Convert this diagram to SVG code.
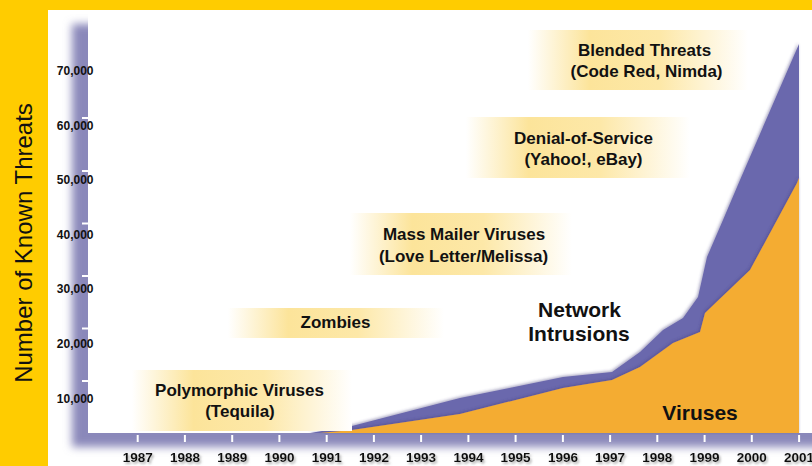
<svg xmlns="http://www.w3.org/2000/svg" width="812" height="466" viewBox="0 0 812 466">
<defs>
<style>
.lbl{font-family:"Liberation Sans",Arial,sans-serif;font-weight:bold;font-size:17px;fill:#111;text-anchor:middle}
.big{font-family:"Liberation Sans",Arial,sans-serif;font-weight:bold;font-size:21px;fill:#111;text-anchor:middle}
.yl{font-family:"Liberation Sans",Arial,sans-serif;font-weight:bold;font-size:12px;fill:#111;text-anchor:end}
.yr{font-family:"Liberation Sans",Arial,sans-serif;font-weight:bold;font-size:13.5px;fill:#111;text-anchor:middle}
.tick{stroke:#fff;stroke-width:2}
</style>
<linearGradient id="glow" x1="0" y1="0" x2="1" y2="0">
<stop offset="0" stop-color="#fff"/>
<stop offset="0.28" stop-color="#FCE49A"/>
<stop offset="0.6" stop-color="#FDE8A8"/>
<stop offset="1" stop-color="#fff"/>
</linearGradient>
<filter id="blur" x="-20%" y="-20%" width="140%" height="140%"><feGaussianBlur stdDeviation="4"/></filter>
<filter id="sh" x="-10%" y="-10%" width="120%" height="120%"><feDropShadow dx="-1" dy="-1" stdDeviation="1.8" flood-color="#3f3d78" flood-opacity="0.45"/></filter>
<filter id="tsh" x="-20%" y="-40%" width="150%" height="200%"><feDropShadow dx="1.5" dy="2" stdDeviation="1" flood-color="#777" flood-opacity="0.6"/></filter>
</defs>
<rect x="0" y="0" width="812" height="466" fill="#FFCC00"/>
<rect x="48" y="10" width="764" height="456" fill="#fff"/>
<g id="axis-frame">
<path d="M72,24 H100 V421 H822 V447 H72 Z" fill="#8A88BA" filter="url(#blur)"/>
<rect x="88" y="10" width="724" height="423" fill="#fff"/>
</g>
<g id="areas">
<path id="network-intrusions" d="M310,433 L352,426 L460,398 L563,377 L612,372 L640,352 L663,330 L683,318 L698,297 L707,257 L723,220 L740,180 L799,44 L799,433 Z" fill="#6A67AD" filter="url(#sh)"/>
<path id="viruses-area" d="M320,433 L352,430 L460,414 L563,388 L612,380 L640,367 L673,343 L700,332 L705,313 L750,270 L797,183 L799,178 L799,433 Z" fill="#F4AC30" filter="url(#sh)"/>
</g>
<g id="ticks">
<line class="tick" x1="82" y1="118" x2="89" y2="118"/>
<line class="tick" x1="82" y1="171" x2="89" y2="171"/>
<line class="tick" x1="82" y1="223.5" x2="89" y2="223.5"/>
<line class="tick" x1="82" y1="276" x2="89" y2="276"/>
<line class="tick" x1="82" y1="328.5" x2="89" y2="328.5"/>
<line class="tick" x1="82" y1="381" x2="89" y2="381"/>
<line class="tick" x1="137.7" y1="435" x2="137.7" y2="442"/>
<line class="tick" x1="184.9" y1="435" x2="184.9" y2="442"/>
<line class="tick" x1="232.2" y1="435" x2="232.2" y2="442"/>
<line class="tick" x1="279.4" y1="435" x2="279.4" y2="442"/>
<line class="tick" x1="326.7" y1="435" x2="326.7" y2="442"/>
<line class="tick" x1="373.9" y1="435" x2="373.9" y2="442"/>
<line class="tick" x1="421.1" y1="435" x2="421.1" y2="442"/>
<line class="tick" x1="468.4" y1="435" x2="468.4" y2="442"/>
<line class="tick" x1="515.6" y1="435" x2="515.6" y2="442"/>
<line class="tick" x1="562.9" y1="435" x2="562.9" y2="442"/>
<line class="tick" x1="610.1" y1="435" x2="610.1" y2="442"/>
<line class="tick" x1="657.3" y1="435" x2="657.3" y2="442"/>
<line class="tick" x1="704.6" y1="435" x2="704.6" y2="442"/>
<line class="tick" x1="751.8" y1="435" x2="751.8" y2="442"/>
<line class="tick" x1="799.1" y1="435" x2="799.1" y2="442"/>
</g>
<g id="y-labels">
<text class="yl" x="93.5" y="75">70,000</text>
<text class="yl" x="93.5" y="129.6">60,000</text>
<text class="yl" x="93.5" y="184.2">50,000</text>
<text class="yl" x="93.5" y="238.8">40,000</text>
<text class="yl" x="93.5" y="293.3">30,000</text>
<text class="yl" x="93.5" y="347.9">20,000</text>
<text class="yl" x="93.5" y="402.5">10,000</text>
</g>
<g id="x-labels" filter="url(#tsh)">
<text class="yr" x="137.7" y="462">1987</text>
<text class="yr" x="184.9" y="462">1988</text>
<text class="yr" x="232.2" y="462">1989</text>
<text class="yr" x="279.4" y="462">1990</text>
<text class="yr" x="326.7" y="462">1991</text>
<text class="yr" x="373.9" y="462">1992</text>
<text class="yr" x="421.1" y="462">1993</text>
<text class="yr" x="468.4" y="462">1994</text>
<text class="yr" x="515.6" y="462">1995</text>
<text class="yr" x="562.9" y="462">1996</text>
<text class="yr" x="610.1" y="462">1997</text>
<text class="yr" x="657.3" y="462">1998</text>
<text class="yr" x="704.6" y="462">1999</text>
<text class="yr" x="751.8" y="462">2000</text>
<text class="yr" x="799.1" y="462">2001</text>
</g>
<text id="y-title" transform="translate(31.5,243) rotate(-90)" text-anchor="middle" font-family="Liberation Sans, Arial, sans-serif" font-size="24" fill="#111">Number of Known Threats</text>
<g id="blended-threats">
<rect x="528" y="30" width="220" height="60" fill="url(#glow)"/>
<text class="lbl" x="644.5" y="56">Blended Threats</text>
<text class="lbl" x="646.5" y="77">(Code Red, Nimda)</text>
</g>
<g id="denial-of-service">
<rect x="466" y="117" width="224" height="61" fill="url(#glow)"/>
<text class="lbl" x="583.5" y="143.5">Denial-of-Service</text>
<text class="lbl" x="583.5" y="165">(Yahoo!, eBay)</text>
</g>
<g id="mass-mailer">
<rect x="350" y="213" width="222" height="62" fill="url(#glow)"/>
<text class="lbl" x="464" y="240">Mass Mailer Viruses</text>
<text class="lbl" x="463.5" y="261.5">(Love Letter/Melissa)</text>
</g>
<g id="zombies">
<rect x="228" y="308" width="216" height="30" fill="url(#glow)"/>
<text class="lbl" x="335.5" y="327.5">Zombies</text>
</g>
<g id="polymorphic">
<rect x="132" y="370" width="220" height="61" fill="url(#glow)"/>
<text class="lbl" x="239.5" y="396">Polymorphic Viruses</text>
<text class="lbl" x="240" y="417">(Tequila)</text>
</g>
<g id="network-label">
<text class="big" x="579.5" y="317">Network</text>
<text class="big" x="579" y="341">Intrusions</text>
</g>
<g id="viruses-label">
<text class="big" x="700" y="420">Viruses</text>
</g>
</svg>
